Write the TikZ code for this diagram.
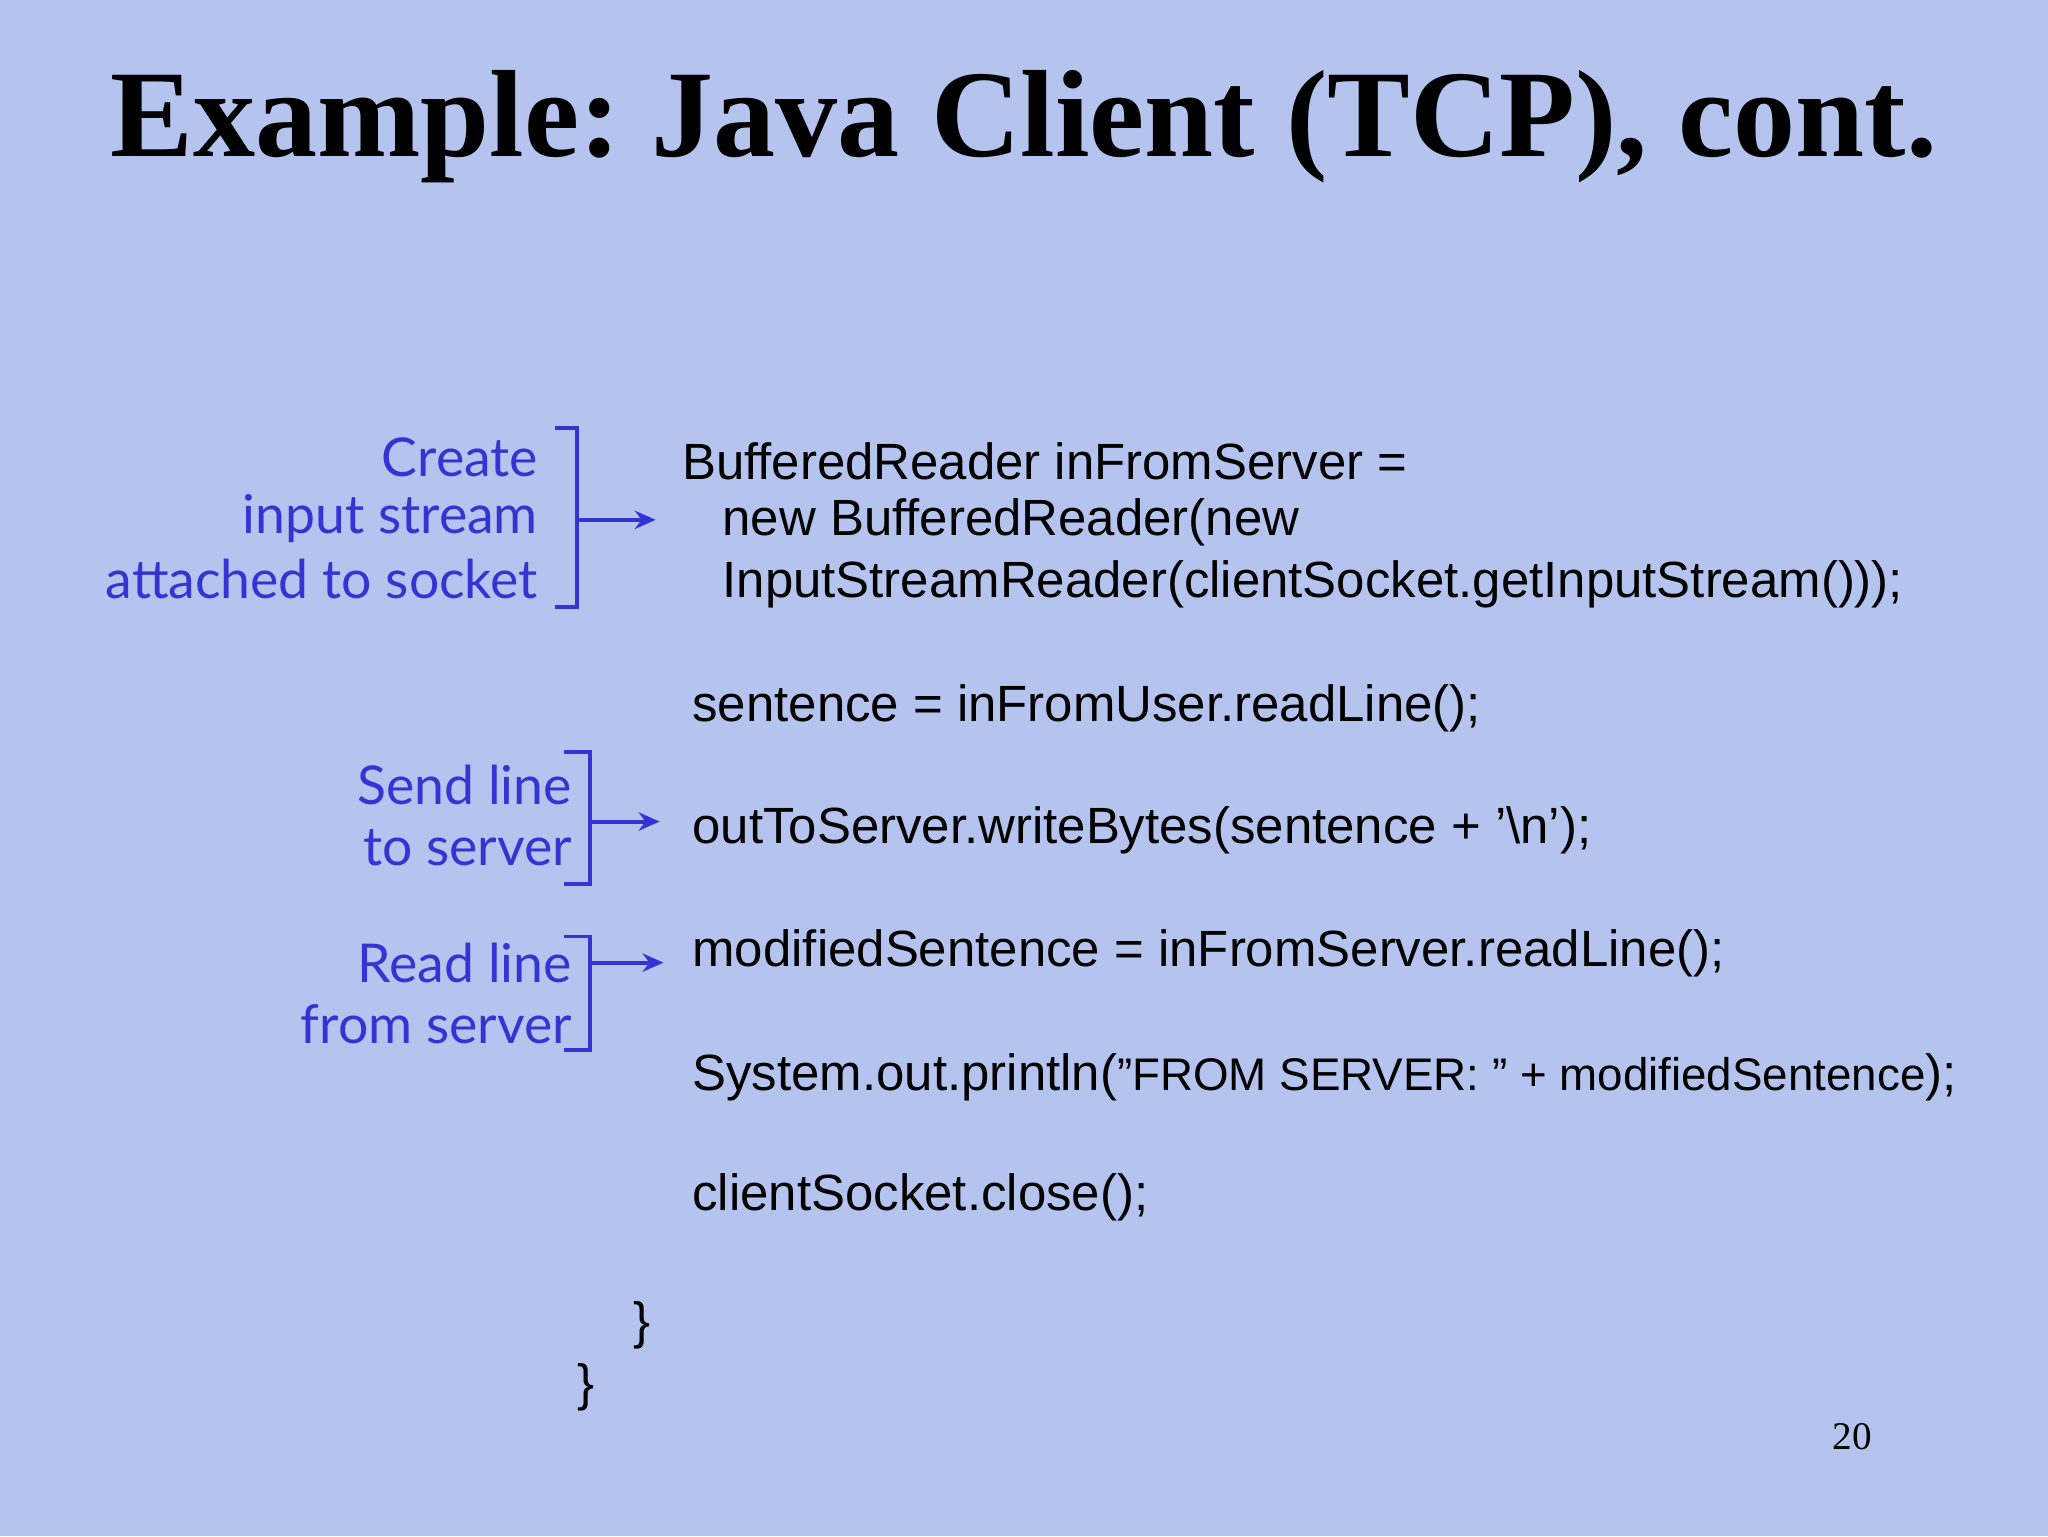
\documentclass[tikz,border=0pt]{standalone}
\usepackage{fontspec}
\setmainfont{Liberation Sans}
\newfontfamily\titlefont{Liberation Serif}
\newfontfamily\notefont{Lato}
\usetikzlibrary{arrows.meta}
\definecolor{bgc}{RGB}{180,196,238}
\definecolor{notec}{RGB}{52,52,210}
\frenchspacing
\begin{document}
\begin{tikzpicture}[x=1pt,y=-1pt,
  code/.style={anchor=west,inner sep=0pt,font=\fontsize{39}{46}\selectfont},
  note/.style={anchor=east,inner sep=0pt,text=notec,font=\notefont\fontsize{41}{48}\selectfont},
  brk/.style={draw=notec,line width=3pt},
  arr/.style={draw=notec,line width=3pt,-{Stealth[length=16pt,width=14pt]}}]
\fill[bgc] (0,0) rectangle (1568,1176);
\node[inner sep=0pt,font=\titlefont\bfseries\fontsize{95}{105}\selectfont] (title) at (784,97) {Example: Java Client (TCP), cont.};
\node[code] (c1) at (522,353) {BufferedReader inFromServer =};
\node[code] (c2) at (553,400) {new BufferedReader(new};
\node[code] (c3) at (553,447) {InputStreamReader(clientSocket.getInputStream()));};
\node[code] (c4) at (530,542) {sentence = inFromUser.readLine();};
\node[code] (c5) at (530,636) {outToServer.writeBytes(sentence + \symbol{39}\textbackslash n\symbol{39});};
\node[code] (c6) at (530,730) {modifiedSentence = inFromServer.readLine();};
\node[code] (c7) at (530,825) {System.out.println({\fontsize{35}{40}\selectfont\symbol{34}FROM SERVER: \symbol{34} + modifiedSentence});};
\node[code] (c8) at (530,917) {clientSocket.close();};
\node[code] (b1) at (485,1015) {\}};
\node[code] (b2) at (442,1062) {\}};
\node[inner sep=0pt,font=\titlefont\fontsize{30}{34}\selectfont] (pg) at (1418,1100) {20};
% notes
\node[note] (n1) at (412,350) {Create};
\node[note] (n2) at (412,397) {input stream};
\node[note] (n3) at (412,443) {attached to socket};
\draw[brk] (425,328) -- (442,328) -- (442,465) -- (425,465);
\coordinate (a1) at (442,398);
\coordinate (t1) at (502,398);
\draw[arr] (a1) -- (t1);
\node[note] (n4) at (438,601) {Send line};
\node[note] (n5) at (438,649) {to server};
\draw[brk] (432,576) -- (452,576) -- (452,677) -- (432,677);
\coordinate (a2) at (452,629);
\coordinate (t2) at (505,629);
\draw[arr] (a2) -- (t2);
\node[note] (n6) at (438,737) {Read line};
\node[note] (n7) at (438,784) {from server};
\draw[brk] (432,717) -- (452,717) -- (452,804) -- (432,804);
\coordinate (a3) at (452,737);
\coordinate (t3) at (508,737);
\draw[arr] (a3) -- (t3);
\end{tikzpicture}
\end{document}
